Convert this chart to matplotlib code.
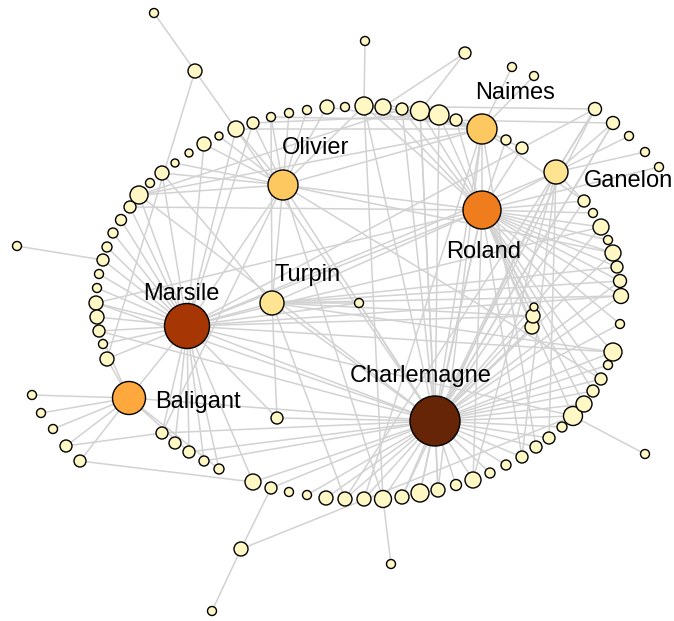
import matplotlib
matplotlib.use("Agg")
import matplotlib.pyplot as plt
from matplotlib.patches import Circle
from matplotlib.collections import LineCollection, PatchCollection

# ---------------- data ----------------
# node positions (pixel space of the original layout), radius, colour class
node_x = [435, 187, 482, 129, 283, 482, 556, 272,
          154, 195, 327, 307, 289, 271, 253, 236, 219, 204, 189, 175, 162, 150, 139, 130, 121, 113, 107, 17,
          103, 99, 97, 96, 97, 99, 103, 107,
          32, 41, 53, 66, 80,
          162, 175, 189, 204, 219, 277,
          253, 271, 289, 307, 326, 345, 364, 383, 402, 420, 438, 456, 473, 490, 506, 522, 536, 549, 562, 573,
          584, 593, 601, 608, 613, 620, 645, 391, 241, 212,
          359, 532, 533, 534,
          365, 465, 512, 534, 345, 364, 383, 402, 420, 439, 456, 506, 522, 595, 613, 629, 645, 659,
          584, 593, 601, 608, 613, 617, 620, 621]
node_y = [421, 326, 210, 398, 185, 129, 172, 303,
          13, 71, 107, 110, 113, 117, 123, 129, 136, 144, 153, 163, 173, 183, 195, 207, 220, 233, 247, 246,
          260, 274, 288, 303, 317, 331, 344, 359,
          395, 413, 429, 446, 461,
          433, 443, 452, 461, 469, 418,
          482, 488, 492, 495, 498, 499, 499, 499, 497, 493, 490, 485, 480, 473, 465, 457, 447, 438, 427, 416,
          404, 391, 379, 365, 352, 324, 454, 564, 549, 611,
          303, 327, 316, 307,
          41, 53, 67, 76, 107, 106, 107, 109, 111, 115, 120, 140, 148, 109, 123, 136, 152, 167,
          201, 213, 227, 240, 253, 267, 281, 296]
node_r = [25, 22.5, 19, 16.5, 15, 15, 12, 12,
          4.5, 7, 7, 4.5, 4.5, 4.5, 6, 8, 4, 7, 4, 4, 7, 4.5, 9, 6, 5.5, 5, 5, 4.5,
          6, 4.5, 4.5, 7, 7, 6, 4.5, 7,
          4.5, 4.5, 4.5, 6, 6,
          6, 6, 6, 5, 5, 6,
          8, 6, 4.5, 4.5, 7, 7, 7, 8.5, 7, 9, 7, 5.5, 8, 5, 5, 6, 6, 6, 5, 9.5,
          8, 6, 6, 4.5, 9, 4.5, 4.5, 4.5, 7, 4.5,
          4.5, 7, 7, 4,
          4.5, 6, 4.5, 4.5, 4.5, 9, 8, 6, 9.5, 10, 6, 5, 6, 6.5, 6.5, 4.5, 4.5, 4.5,
          6, 4.5, 8, 4.5, 8, 6, 6.5, 7.5]
node_level = [6, 5, 4, 3, 2, 2, 1, 1] + [0] * 99

level_colors = ["#fff7c4", "#fee391", "#fec860", "#fea83e", "#ef7d1e", "#a63603", "#662506"]

labels = ["Charlemagne", "Marsile", "Roland", "Baligant", "Olivier", "Naimes", "Ganelon", "Turpin"]
label_x = [421, 181, 484, 155, 316, 515, 584, 308]
label_y = [382, 300, 258, 408, 154, 99, 187, 281]
label_ha = ["center", "center", "center", "left", "center", "center", "left", "center"]

hub_links = {
    0: [1, 2, 3, 4, 5, 6, 7, 46, 47, 48, 50, 51, 52, 53, 54, 55, 56, 57, 58, 59, 60, 61, 62, 63,
        64, 65, 66, 67, 68, 69, 70, 71, 72, 77, 78, 79, 86, 88, 89, 90, 99, 101, 103, 105, 106,
        41, 43, 44, 31, 33, 15, 22, 94, 95],
    1: [3, 7, 4, 2, 15, 17, 20, 22, 23, 24, 25, 26, 28, 29, 30, 31, 32, 33, 34, 35, 41, 42, 43,
        44, 45, 47, 46, 77, 79, 66, 14, 71, 106, 101],
    2: [5, 6, 7, 4, 86, 87, 88, 89, 90, 91, 92, 93, 99, 100, 101, 102, 103, 104, 105, 106, 66, 67,
        68, 69, 71, 72, 78, 79, 80, 59, 56, 62, 31, 23, 98],
    3: [36, 37, 38, 39, 40, 35, 33, 45, 43],
    4: [10, 11, 12, 13, 14, 15, 16, 17, 19, 20, 22, 5, 7, 86, 54, 69, 103, 41],
    5: [86, 87, 88, 89, 90, 91, 92, 93, 10, 15, 22, 63, 57, 53, 99, 83, 84],
    6: [94, 95, 96, 97, 99, 59, 62, 64, 52, 55, 1, 94],
    7: [77, 46, 71, 106, 105, 13, 20, 79, 52, 104],
}
extra_links = [(8, 9), (9, 15), (9, 35), (27, 28), (40, 47), (39, 41), (75, 48), (75, 76),
               (75, 66), (74, 54), (73, 66), (81, 86), (82, 89), (82, 87), (13, 95),
               (94, 86), (94, 1), (95, 0), (86, 54), (89, 57), (14, 90), (22, 88)]

# ---------------- drawing ----------------
W, H = 674, 621
fig = plt.figure(figsize=(W / 100, H / 100), dpi=100)
ax = fig.add_axes([0, 0, 1, 1])
ax.set_xlim(0, W)
ax.set_ylim(H, 0)
ax.set_aspect("equal")
ax.axis("off")

edges = [(a, b) for a, lst in hub_links.items() for b in lst] + extra_links
segs = [[(node_x[a], node_y[a]), (node_x[b], node_y[b])] for a, b in edges]
ax.add_collection(LineCollection(segs, colors="#d2d2d2", linewidths=1.1, zorder=1))

circles = [Circle((x, y), r) for x, y, r in zip(node_x, node_y, node_r)]
pc = PatchCollection(circles, facecolors=[level_colors[l] for l in node_level],
                     edgecolors="black", linewidths=1.0, zorder=2)
ax.add_collection(pc)

for t, x, y, ha in zip(labels, label_x, label_y, label_ha):
    ax.text(x, y, t, ha=ha, va="baseline", fontsize=17, family="Liberation Sans",
            color="black", zorder=3)

fig.savefig("out.png", dpi=100)
